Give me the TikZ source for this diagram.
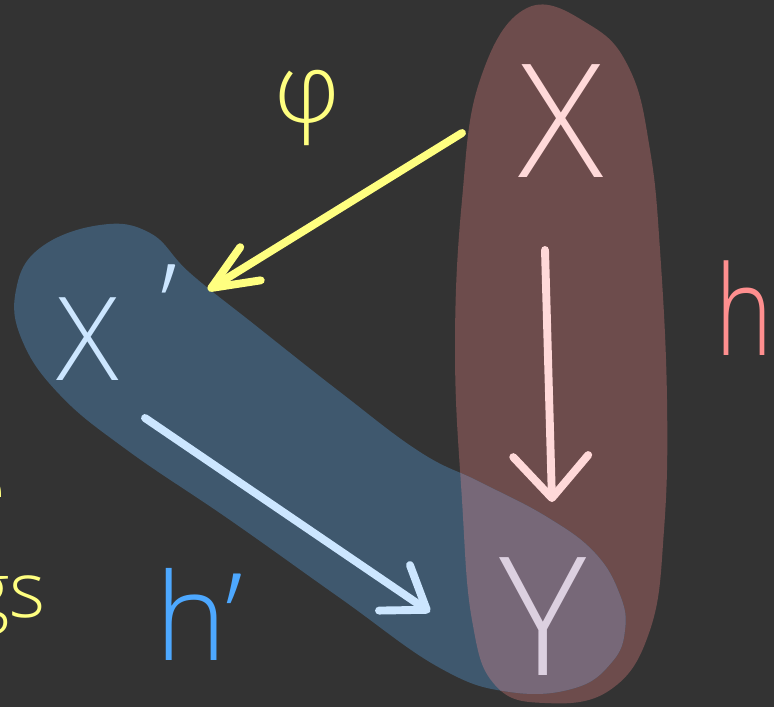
\documentclass[tikz,border=0pt]{standalone}
\usepackage{fontspec}
\newfontfamily\hand{Open Sans Light}
\usetikzlibrary{arrows.meta}
\definecolor{boardc}{HTML}{333333}
\definecolor{brownc}{HTML}{6D4C4C}
\definecolor{bluec}{HTML}{3F586E}
\definecolor{overlapc}{HTML}{776878}
\definecolor{xpink}{HTML}{FFD9D9}
\definecolor{xblue}{HTML}{CCE6FF}
\definecolor{ylav}{HTML}{DCD0E0}
\definecolor{yel}{HTML}{FFFF80}
\definecolor{hred}{HTML}{FF8F8F}
\definecolor{hblue}{HTML}{4DA8FF}
\begin{document}
\begin{tikzpicture}[x=0.02cm,y=-0.02cm,
    lbl/.style={inner sep=0pt,outer sep=0pt},
    pen/.style={line width=4.5pt,line cap=round,line join=round}
]
\fill[boardc] (0,0) rectangle (774,707);
\useasboundingbox (0,0) rectangle (774,707);
% blobs
\path[save path=\brownblob] plot[smooth cycle,tension=0.7] coordinates {(527,8) (590,25) (630,70) (650,150) (660,250) (667,400) (664,530) (650,630) (610,690) (545,703) (495,685) (472,620) (462,500) (455,350) (462,200) (480,80)};
\path[save path=\blueblob] plot[smooth cycle,tension=0.7] coordinates {(100,225) (150,233) (190,273) (255,325) (340,392) (420,452) (480,482) (547,517) (595,553) (620,595) (625,630) (612,662) (575,688) (510,692) (440,668) (340,598) (230,520) (127,450) (60,395) (22,340) (16,290) (40,248)};
\fill[brownc,use path=\brownblob];
\fill[bluec,use path=\blueblob];
\begin{scope}
  \clip[use path=\brownblob];
  \fill[overlapc,use path=\blueblob];
\end{scope}
% labels
\node[lbl,text=xpink,font={\hand\fontsize{90pt}{90pt}\selectfont},anchor=base] (X) at (561,177) {X};
\node[lbl,text=xblue,font={\hand\fontsize{66pt}{66pt}\selectfont},anchor=base west] (Xp) at (56,380) {X\kern0.36em\raisebox{0.28em}{’}};
\node[lbl,text=ylav,font={\hand\fontsize{94pt}{94pt}\selectfont},anchor=base] (Y) at (543,675) {Y};
\node[lbl,text=yel,font={\hand\fontsize{55pt}{55pt}\selectfont}] (phi) at (307,108) {φ};
\node[lbl,text=hred,font={\hand\fontsize{71pt}{71pt}\selectfont},anchor=base] (h) at (744,355) {\scalebox{0.78}[1]{h}};
\node[lbl,text=hblue,font={\hand\fontsize{69pt}{69pt}\selectfont},anchor=base west] (hp) at (155,660) {h’};
\node[lbl,text=yel,font={\hand\fontsize{44pt}{44pt}\selectfont},anchor=base east] (frag1) at (6,517) {e};
\node[lbl,text=yel,font={\hand\fontsize{44pt}{44pt}\selectfont},anchor=base east] (frag2) at (46,617) {gs};
% arrows
\draw[pen,yel,-{Straight Barb[length=0.92cm,width=0.78cm,round]}]
  ([shift={(-99,-44)}]X.base) -- ([shift={(152,-90)}]Xp.base west);
\draw[pen,xpink,-{Straight Barb[length=0.84cm,width=1.5cm,round]}]
  ([shift={(-16,73)}]X.base) -- ([shift={(9,-173)}]Y.base);
\draw[pen,xblue,-{Straight Barb[length=0.78cm,width=1.1cm,round]}]
  ([shift={(89,38)}]Xp.base west) -- ([shift={(-113,-63)}]Y.base);
\end{tikzpicture}
\end{document}
